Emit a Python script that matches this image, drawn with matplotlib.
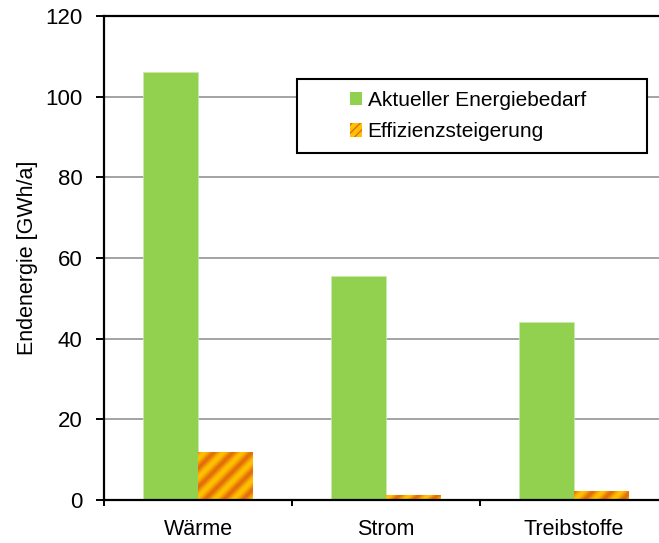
import numpy as np
import matplotlib
matplotlib.use("Agg")
import matplotlib.pyplot as plt
from matplotlib.patches import Patch, Rectangle

plt.rcParams['font.family'] = ['Liberation Sans', 'DejaVu Sans']
plt.rcParams['font.size'] = 15

categories = ["Wärme", "Strom", "Treibstoffe"]
aktueller_bedarf = [106.0, 55.6, 44.1]
effizienzsteigerung = [11.7, 1.2, 2.0]
series_labels = ["Aktueller Energiebedarf", "Effizienzsteigerung"]
y_ticks = [0, 20, 40, 60, 80, 100, 120]

GREEN = "#92D050"
ORANGE_DARK = np.array([0xE2, 0x6B, 0x0A]) / 255.0
ORANGE_LIGHT = np.array([0xFF, 0xC2, 0x00]) / 255.0

W, H, DPI = 659, 543, 100
fig = plt.figure(figsize=(W / DPI, H / DPI), dpi=DPI)
# plot area: left edge at x=104 px, right edge just past the canvas
ax = fig.add_axes([104 / W, 43 / H, 564 / W, 484 / H])

x = np.arange(len(categories))
bw = 0.29

ax.set_xlim(-0.5, 2.5)
ax.set_ylim(0, 120)

ax.bar(x - bw / 2, aktueller_bedarf, width=bw, color=GREEN, zorder=3,
       edgecolor="#c8eab0", linewidth=0.5)

# striped orange bars: a diagonal gradient image clipped to each bar's extent
period = 19.0  # px, measured horizontally
for xi, val in zip(x, effizienzsteigerung):
    x0, x1 = xi, xi + bw
    (px0, py0), (px1, py1) = ax.transData.transform([(x0, 0), (x1, val)])
    nx = max(int(round(px1 - px0)), 2) * 2
    ny = max(int(round(py1 - py0)), 2) * 2
    gx = np.linspace(px0, px1, nx)
    gy = np.linspace(py0, py1, ny)
    GX, GY = np.meshgrid(gx, gy)
    t = 0.5 + 0.5 * np.cos(2 * np.pi * (GX - GY) / period)
    t = t ** 0.8
    img = ORANGE_DARK[None, None, :] * (1 - t[..., None]) + ORANGE_LIGHT[None, None, :] * t[..., None]
    ax.imshow(img, extent=(x0, x1, 0, val), origin="lower", aspect="auto",
              interpolation="bilinear", zorder=3)
ax.set_xlim(-0.5, 2.5)
ax.set_ylim(0, 120)

# gridlines
ax.set_yticks(y_ticks)
ax.yaxis.grid(True, color="#9c9c9c", linewidth=1.3, zorder=1)
ax.set_axisbelow(True)

# spines
for side in ("left", "bottom", "top"):
    ax.spines[side].set_color("black")
    ax.spines[side].set_linewidth(1.6)
    ax.spines[side].set_zorder(4)
ax.spines["right"].set_visible(False)

ax.tick_params(axis="y", direction="out", length=5.5, width=1.4, pad=10,
               labelsize=16)

# category boundaries as major ticks, names on minor ticks
ax.set_xticks([-0.5, 0.5, 1.5, 2.5])
ax.set_xticklabels([])
ax.set_xticks(x, minor=True)
ax.set_xticklabels(categories, minor=True)
ax.tick_params(axis="x", which="major", direction="out", length=4.5, width=1.4)
ax.tick_params(axis="x", which="minor", length=0, pad=13.5, labelsize=15.5)

ax.set_ylabel("Endenergie [GWh/a]", fontsize=15.5, va="center")
ax.yaxis.set_label_coords(-0.1365, 0.5)

# legend box
frame = Rectangle((0.342, 0.717), 0.621, 0.153, transform=ax.transAxes,
                  facecolor="white", edgecolor="black", linewidth=1.5,
                  zorder=5)
ax.add_patch(frame)
handles = [
    Patch(facecolor=GREEN, linewidth=0),
    Patch(facecolor="#FFC200", edgecolor="#E26B0A", hatch="////", linewidth=0),
]
leg = ax.legend(handles, series_labels, loc="center",
                bbox_to_anchor=(0.645, 0.793), frameon=False,
                handlelength=0.6, handleheight=0.6, handletextpad=0.25,
                labelspacing=0.6, fontsize=15, borderaxespad=0)
leg.set_zorder(6)

fig.savefig("out.png", dpi=DPI)
